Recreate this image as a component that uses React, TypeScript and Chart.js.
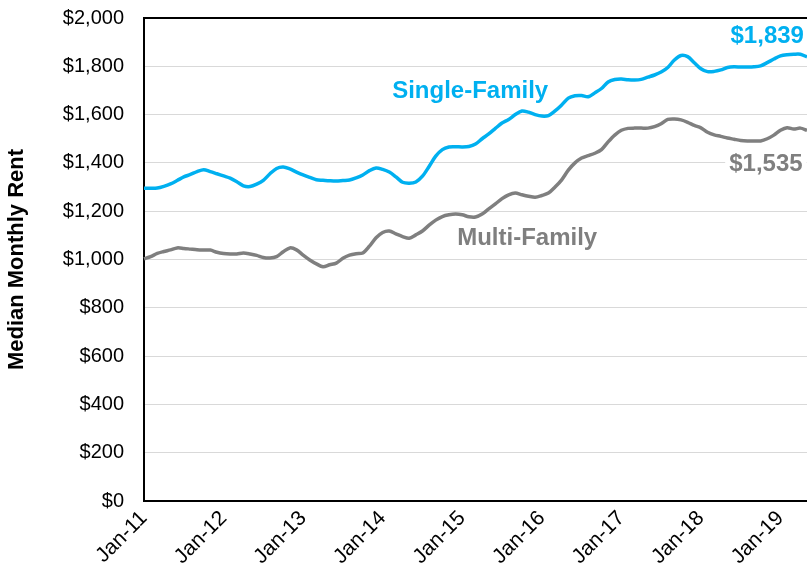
import React, { useEffect, useRef } from "react";
import { Chart, registerables } from "chart.js";

Chart.register(...registerables);

const monthNames = ["Jan", "Feb", "Mar", "Apr", "May", "Jun", "Jul", "Aug", "Sep", "Oct", "Nov", "Dec"];
const years = ["11", "12", "13", "14", "15", "16", "17", "18", "19"];
const monthCount = 101; // Jan-11 .. May-19

const categories: string[] = [];
for (let i = 0; i < monthCount; i++) {
  categories.push(monthNames[i % 12] + "-" + years[Math.floor(i / 12)]);
}

const singleFamily = [
  1295, 1295, 1296, 1303, 1313, 1327, 1342, 1352, 1364, 1372,
  1364, 1355, 1346, 1337, 1322, 1305, 1302, 1312, 1328, 1355,
  1377, 1383, 1375, 1362, 1350, 1340, 1330, 1328, 1326, 1325,
  1327, 1329, 1338, 1350, 1368, 1379, 1373, 1362, 1342, 1320,
  1316, 1321, 1345, 1385, 1428, 1455, 1466, 1467, 1466, 1468,
  1478, 1500, 1520, 1543, 1565, 1580, 1600, 1615, 1610, 1600,
  1594, 1596, 1615, 1640, 1668, 1678, 1679, 1674, 1690, 1708,
  1735, 1745, 1747, 1744, 1743, 1746, 1755, 1764, 1776, 1795,
  1826, 1845, 1840, 1815, 1790, 1778, 1779, 1785, 1795, 1798,
  1797, 1797, 1798, 1802, 1815, 1830, 1843, 1848, 1850, 1850,
  1839,
];

const multiFamily = [
  1003, 1012, 1025, 1033, 1040, 1048, 1046, 1043, 1040, 1039,
  1039, 1030, 1025, 1023, 1023, 1027, 1023, 1017, 1008, 1006,
  1012, 1032, 1048, 1040, 1018, 998, 982, 970, 978, 985,
  1005, 1018, 1024, 1027, 1055, 1090, 1112, 1118, 1106, 1095,
  1088, 1102, 1118, 1142, 1163, 1178, 1185, 1188, 1185, 1177,
  1176, 1188, 1210, 1230, 1252, 1268, 1275, 1268, 1262, 1258,
  1265, 1275, 1300, 1330, 1370, 1400, 1420, 1430, 1440, 1455,
  1487, 1515, 1535, 1543, 1544, 1544, 1544, 1550, 1562, 1580,
  1582, 1578, 1568, 1555, 1545, 1527, 1516, 1510, 1503, 1498,
  1493, 1491, 1491, 1491, 1500, 1515, 1535, 1546, 1540, 1544,
  1535,
];

const BLUE = "#00b0f0";
const GRAY = "#7f7f7f";

const seriesLabels = ["Single-Family", "Multi-Family"];
const endLabels = ["$1,839", "$1,535"];

const annotations = [
  { text: seriesLabels[0], at: 49.2, value: 1698, color: BLUE, bg: false },
  { text: seriesLabels[1], at: 57.8, value: 1089, color: GRAY, bg: false },
  { text: endLabels[0], at: 94.0, value: 1925, color: BLUE, bg: false },
  { text: endLabels[1], at: 93.8, value: 1392, color: GRAY, bg: true },
];

const FONT = "'Liberation Sans', Arial, sans-serif";

const labelPlugin = {
  id: "seriesLabels",
  afterDatasetsDraw(chart: any) {
    const { ctx, scales } = chart;
    const x = scales.x;
    const y = scales.y;
    ctx.save();
    ctx.font = `bold 24px ${FONT}`;
    ctx.textAlign = "center";
    ctx.textBaseline = "middle";
    for (const a of annotations) {
      const px = x.getPixelForValue(a.at);
      const py = y.getPixelForValue(a.value);
      if (a.bg) {
        const w = ctx.measureText(a.text).width;
        ctx.fillStyle = "#ffffff";
        ctx.fillRect(px - w / 2 - 4, py - 14, w + 8, 28);
      }
      ctx.fillStyle = a.color;
      ctx.fillText(a.text, px, py);
    }
    ctx.restore();
  },
};

export default function App() {
  const canvasRef = useRef<HTMLCanvasElement | null>(null);

  useEffect(() => {
    document.body.style.margin = "0";
    document.body.style.overflow = "hidden";
    if (!canvasRef.current) return;
    const chart = new Chart(canvasRef.current, {
      type: "line",
      data: {
        labels: categories,
        datasets: [
          {
            label: seriesLabels[0],
            data: singleFamily,
            borderColor: BLUE,
            borderWidth: 3.5,
            pointRadius: 0,
            tension: 0.3,
            fill: false,
          },
          {
            label: seriesLabels[1],
            data: multiFamily,
            borderColor: GRAY,
            borderWidth: 3.5,
            pointRadius: 0,
            tension: 0.3,
            fill: false,
          },
        ],
      },
      options: {
        animation: false,
        responsive: true,
        maintainAspectRatio: false,
        layout: { padding: { top: 18, left: 0, right: 0, bottom: 0 } },
        plugins: {
          legend: { display: false },
          tooltip: { enabled: false },
        },
        scales: {
          x: {
            type: "category",
            offset: false,
            grid: { display: false, drawTicks: false },
            border: { display: true, color: "#000000", width: 2 },
            ticks: {
              autoSkip: false,
              maxRotation: 45,
              minRotation: 45,
              padding: 5,
              color: "#000000",
              font: { family: FONT, size: 21 },
              callback: (_v: any, i: number) => (i % 12 === 0 ? categories[i] : ""),
            },
            afterFit: (scale: any) => {
              scale.height = 83;
              scale.paddingLeft = 0;
              scale.paddingRight = 0;
            },
          },
          y: {
            min: 0,
            max: 2000,
            grid: {
              drawTicks: false,
              color: (c: any) => (c.tick && c.tick.value === 2000 ? "#000000" : "#d9d9d9"),
              lineWidth: (c: any) => (c.tick && c.tick.value === 2000 ? 2 : 1),
            },
            border: { display: true, color: "#000000", width: 2 },
            ticks: {
              stepSize: 200,
              padding: 20,
              color: "#000000",
              font: { family: FONT, size: 20 },
              callback: (v: any) => "$" + Number(v).toLocaleString("en-US"),
            },
            title: {
              display: true,
              text: "Median Monthly Rent",
              color: "#000000",
              font: { family: FONT, size: 22, weight: "bold" },
              padding: { top: 4, bottom: 0 },
            },
            afterFit: (scale: any) => {
              scale.width = 144;
              scale.paddingTop = 0;
              scale.paddingBottom = 0;
            },
          },
        },
      },
      plugins: [labelPlugin],
    });
    return () => chart.destroy();
  }, []);

  return (
    <div style={{ position: "relative", width: 807, height: 584 }}>
      <canvas ref={canvasRef} />
    </div>
  );
}
